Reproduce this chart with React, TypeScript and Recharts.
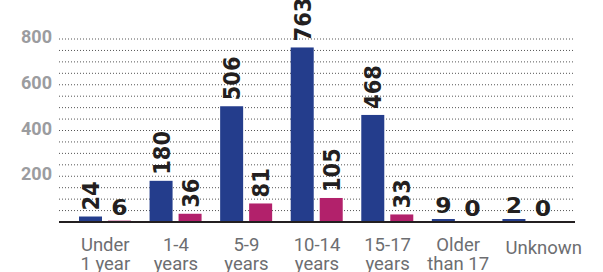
import { BarChart, Bar, XAxis, YAxis, CartesianGrid } from "recharts"

const categories = [
  "Under 1 year",
  "1-4 years",
  "5-9 years",
  "10-14 years",
  "15-17 years",
  "Older than 17",
  "Unknown",
]
const categoryLines = [
  ["Under", "1 year"],
  ["1-4", "years"],
  ["5-9", "years"],
  ["10-14", "years"],
  ["15-17", "years"],
  ["Older", "than 17"],
  ["Unknown"],
]
const blueValues = [24, 180, 506, 763, 468, 9, 2]
const pinkValues = [6, 36, 81, 105, 33, 0, 0]
// dotted lines every 50, labels only every 200
const gridTicks = [50, 100, 150, 200, 250, 300, 350, 400, 450, 500, 550, 600, 650, 700, 750, 800]
const labelTicks = [200, 400, 600, 800]

const BLUE = "#243d8c"
const PINK = "#b2216b"
const INK = "#231f20"

const data = categories.map((name, i) => ({
  name,
  blue: blueValues[i],
  pink: pinkValues[i],
}))

// bar rect + its value label, drawn together
function makeShape(key: "blue" | "pink", color: string) {
  return (props: any) => {
    const x = Number(props.x)
    const y = Number(props.y)
    const width = Number(props.width)
    const height = Number(props.height) || 0
    const value = props.payload ? props.payload[key] : props.value
    const str = String(value)
    const cx = x + width / 2
    const top = y - 6
    const font = {
      fill: INK,
      fontFamily: "DejaVu Sans",
      fontWeight: 700,
      fontSize: 21,
    }
    return (
      <g>
        {height > 0 && <rect x={x} y={y} width={width} height={height} fill={color} />}
        {str.length > 1 ? (
          <g transform={`translate(${cx},${top}) scale(1.12,1) rotate(-90)`}>
            <text x={0} y={0} dy="0.36em" textAnchor="start" {...font}>
              {str}
            </text>
          </g>
        ) : (
          <g transform={`translate(${cx},${top}) scale(1.12,1)`}>
            <text x={0} y={0} textAnchor="middle" {...font}>
              {str}
            </text>
          </g>
        )}
      </g>
    )
  }
}

function CategoryTick(props: any) {
  const { x, y, payload } = props
  const idx = categories.indexOf(payload.value)
  const lines = categoryLines[idx] || [payload.value]
  const single = lines.length === 1
  const tx = single ? x + 15 : x
  return (
    <text x={tx} y={y} textAnchor="middle" fill="#6d6e71" fontFamily="Roboto" fontSize={18.5}>
      {lines.map((l, i) => (
        <tspan key={i} x={tx} dy={i === 0 ? (single ? 24 : 21) : 19}>
          {l}
        </tspan>
      ))}
    </text>
  )
}

function ValueTick(props: any) {
  const { x, y, payload } = props
  if (!labelTicks.includes(payload.value)) return <g />
  return (
    <text
      x={x}
      y={y + 4}
      textAnchor="end"
      fill="#9b9c9f"
      fontFamily="Roboto"
      fontWeight={700}
      fontSize={18}
    >
      {payload.value}
    </text>
  )
}

export default function App() {
  return (
    <div style={{ position: "absolute", left: 0, top: 0, background: "#fff" }}>
      <BarChart
        width={603}
        height={272}
        data={data}
        margin={{ top: 39, right: 28, bottom: 0, left: 0 }}
        barSize={23}
        barGap={6}
      >
        <CartesianGrid vertical={false} stroke="#555" strokeDasharray="1 2" />
        <XAxis
          dataKey="name"
          height={50}
          padding={{ left: 11, right: 11 }}
          axisLine={{ stroke: INK, strokeWidth: 2 }}
          tickLine={false}
          interval={0}
          tick={<CategoryTick />}
        />
        <YAxis
          width={59}
          domain={[0, 800]}
          ticks={gridTicks}
          interval={0}
          axisLine={false}
          tickLine={false}
          tickMargin={1}
          tick={<ValueTick />}
        />
        <Bar
          dataKey="blue"
          isAnimationActive={false}
          minPointSize={(v: number) => (v > 0 ? 3 : 0)}
          shape={makeShape("blue", BLUE)}
        />
        <Bar
          dataKey="pink"
          isAnimationActive={false}
          shape={makeShape("pink", PINK)}
        />
      </BarChart>
    </div>
  )
}
